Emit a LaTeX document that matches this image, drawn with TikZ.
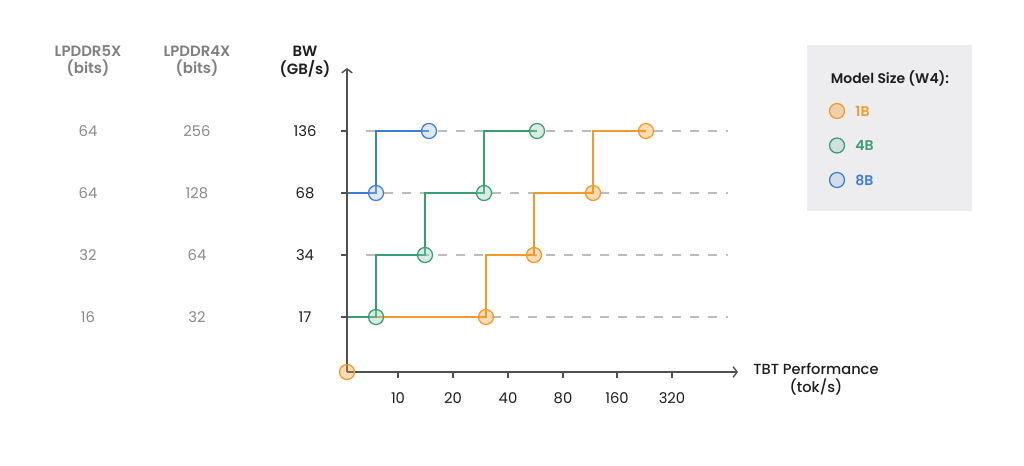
\documentclass[tikz,border=0pt]{standalone}
\usepackage{fontspec}
\setmainfont{Poppins}
\newfontfamily\medfont{Poppins Medium}
\newfontfamily\semifont{Poppins SemiBold}
\usepackage{tikz}
\usetikzlibrary{positioning}
\usetikzlibrary{arrows.meta,backgrounds}
\definecolor{orangeC}{HTML}{F39B2A}
\definecolor{greenC}{HTML}{3A9E74}
\definecolor{blueC}{HTML}{3F7FD0}
\definecolor{grayT}{HTML}{8A8A8A}
\definecolor{headT}{HTML}{808080}
\definecolor{gridC}{HTML}{BDBDBD}
\definecolor{axisC}{HTML}{505050}
\definecolor{boxC}{HTML}{EDEDF0}
\definecolor{darkT}{HTML}{1E1E1E}
\tikzstyle{header} = [align=center, text=headT, font=\semifont\fontsize{10.6}{12.2}\selectfont]
\tikzstyle{bwheader} = [align=center, text=darkT, font=\semifont\fontsize{10.6}{12.6}\selectfont]
\tikzstyle{val} = [text=grayT, font=\fontsize{10.5}{12}\selectfont]
\tikzstyle{bwval} = [text=darkT, font=\fontsize{10.5}{12}\selectfont]
\tikzstyle{tick} = [draw=axisC, line width=0.9pt]
\tikzstyle{axis} = [draw=axisC, line width=1pt, -{Straight Barb[length=1mm,width=2.6mm]}]
\tikzstyle{grid} = [draw=gridC, line width=0.8pt, dash pattern=on 6.4pt off 6.4pt, dash phase=6.4pt]
\tikzstyle{dot} = [circle, line width=0.9pt, minimum size=3.75mm, inner sep=0pt, fill opacity=0.35, text opacity=1]
\tikzstyle{odot} = [dot, draw=orangeC, fill=orangeC]
\tikzstyle{gdot} = [dot, draw=greenC, fill=greenC!55]
\tikzstyle{bdot} = [dot, draw=blueC, fill=blueC!50]
\tikzstyle{stepline} = [line width=0.9pt]
\tikzstyle{legtext} = [font=\semifont\fontsize{10}{11}\selectfont, inner sep=0pt]

\begin{document}
\begin{tikzpicture}[x=0.025cm, y=-0.025cm]
        \useasboundingbox (0,0) rectangle (1024,466);
        % table of memory widths
        \node[header](h5x) at (88,61){LPDDR5X\\(bits)};
        \node[header](h4x) at (197,61){LPDDR4X\\(bits)};
        \node[bwheader](hbw) at (305,62){BW\\(GB/s)};
        \node[val](a1) at (88,131){64};
        \node[val](a2) at (88,193){64};
        \node[val](a3) at (88,255){32};
        \node[val](a4) at (88,317){16};
        \node[val](c1) at (197,131){256};
        \node[val](c2) at (197,193){128};
        \node[val](c3) at (197,255){64};
        \node[val](c4) at (197,317){32};
        \node[bwval](bw1) at (305,131){136};
        \node[bwval](bw2) at (305,193){68};
        \node[bwval](bw3) at (305,255){34};
        \node[bwval](bw4) at (305,317){17};
        % axes
        \coordinate (O) at (347,372);
        \coordinate (ytop) at (347,68);
        \coordinate (xend) at (738,372);
        \coordinate (y136) at (347,131);
        \coordinate (y68) at (347,193);
        \coordinate (y34) at (347,255);
        \coordinate (y17) at (347,317);
        \begin{scope}[on background layer]
        \foreach \yy in {136,68,34,17}{
            \path[grid] (y\yy) ++(10,0) -- ++(371,0);
        }
        \end{scope}
        \foreach \yy in {136,68,34,17}{
            \path[tick] (y\yy) ++(-6,0) -- ++(7,0);
        }
        \foreach \xx/\lab in {398/10,453/20,508/40,563/80,617/160,672/320}{
            \coordinate (x\lab) at (\xx,372);
            \path[tick] (x\lab) -- ++(0,6);
            \node[val, text=darkT](t\lab) at (\xx,398){\lab};
        }
        \path[axis] (O) -- (ytop);
        \path[axis] (O) -- (xend);
        \node[align=center, text=darkT, font=\medfont\fontsize{10.4}{12.4}\selectfont](xlab) at (816,379){TBT Performance\\(tok/s)};
        % data points
        \node[odot](o0) at (O){};
        \node[odot](o1) at (486,317){};
        \node[odot](o2) at (534,255){};
        \node[odot](o3) at (593,193){};
        \node[odot](o4) at (646,131){};
        \node[gdot](g1) at (376,317){};
        \node[gdot](g2) at (425,255){};
        \node[gdot](g3) at (484,193){};
        \node[gdot](g4) at (537,131){};
        \node[bdot](b1) at (376,193){};
        \node[bdot](b2) at (429,131){};
        \begin{scope}[on background layer]
            \draw[stepline, orangeC] (y17) -- (o1.center) |- (o2.center) |- (o3.center) |- (o4.center);
            \draw[stepline, greenC] (y17) -- (g1.center) |- (g2.center) |- (g3.center) |- (g4.center);
            \draw[stepline, blueC] (y68) -- (b1.center) |- (b2.center);
        \end{scope}
        % legend
        \node[fill=boxC, minimum width=4.1cm, minimum height=4.15cm, inner sep=0pt](legend) at (889.5,128){};
        \node[font=\semifont\fontsize{9.9}{11}\selectfont, text=darkT](legtitle) at (890,78){Model Size (W4):};
        \node[odot](l1) at (837,111){};
        \node[gdot](l2) at (837,145.5){};
        \node[bdot](l3) at (837,180){};
        \node[legtext, text=orangeC, right=0.25cm of l1](l1t){1B};
        \node[legtext, text=greenC, right=0.25cm of l2](l2t){4B};
        \node[legtext, text=blueC, right=0.25cm of l3](l3t){8B};
\end{tikzpicture}
\end{document}
